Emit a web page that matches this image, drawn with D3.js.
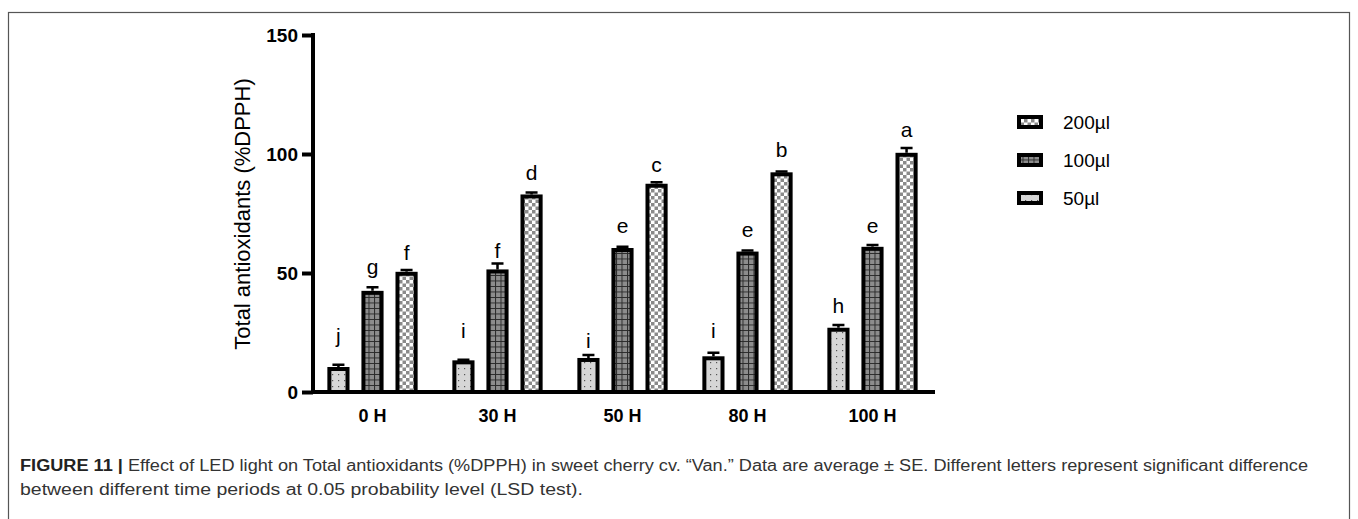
<!DOCTYPE html>
<html>
<head>
	<title>Total antioxidants</title>
	<script src="https://d3js.org/d3.v7.min.js" charset="utf-8"></script>
	<style>
		body { margin: 0; background: #fff; }
		svg { display: block; font-family: "Liberation Sans", Arial, sans-serif; }
	</style>
</head>
<body>
	<script>
		// DATA
		var times = ["0 H", "30 H", "50 H", "80 H", "100 H"];
		var doses = ["50µl", "100µl", "200µl"];
		var legendOrder = ["200µl", "100µl", "50µl"];
		var means = {
			"50µl":  [10.5, 13.3, 14.3, 15.0, 27.0],
			"100µl": [42.5, 51.5, 60.5, 59.0, 61.0],
			"200µl": [50.5, 83.0, 87.5, 92.3, 100.5]
		};
		var errors = {
			"50µl":  [1.0, 0.3, 1.2, 1.5, 1.2],
			"100µl": [1.5, 2.5, 0.5, 0.5, 0.8],
			"200µl": [0.8, 0.8, 0.6, 0.3, 2.0]
		};
		var letters = {
			"50µl":  ["j", "i", "i", "i", "h"],
			"100µl": ["g", "f", "e", "e", "e"],
			"200µl": ["f", "d", "c", "b", "a"]
		};
		// height (in axis units) where each letter sits
		var letterAt = {
			"50µl":  [20.6, 22.7, 18.5, 22.7, 33.2],
			"100µl": [49.6, 56.3, 66.8, 65.1, 66.8],
			"200µl": [55.5, 89.1, 92.4, 98.7, 107.1]
		};
		var yTicks = [0, 50, 100, 150];

		// SET UP SVG
		var width = 1358, height = 519;
		var svg = d3.select("body").append("svg")
			.attr("width", width)
			.attr("height", height);

		// frame round the figure
		svg.append("rect")
			.attr("x", 8.5).attr("y", 12.5)
			.attr("width", 1341).attr("height", 520)
			.attr("fill", "none").attr("stroke", "#555").attr("stroke-width", 1.2);

		// patterns
		var defs = svg.append("defs");
		var p50 = defs.append("pattern").attr("id", "p50")
			.attr("patternUnits", "userSpaceOnUse").attr("width", 6).attr("height", 6);
		p50.append("rect").attr("width", 6).attr("height", 6).attr("fill", "#d6d6d6");
		p50.append("rect").attr("x", 2).attr("y", 2).attr("width", 1.2).attr("height", 1.2).attr("fill", "#555");

		var p100 = defs.append("pattern").attr("id", "p100")
			.attr("patternUnits", "userSpaceOnUse").attr("width", 5.5).attr("height", 5.5);
		p100.append("rect").attr("width", 5.5).attr("height", 5.5).attr("fill", "#8d8d8d");
		p100.append("path").attr("d", "M0,0.5H5.5M0.5,0V5.5").attr("stroke", "#2a2a2a").attr("stroke-width", 1);

		var p200 = defs.append("pattern").attr("id", "p200")
			.attr("patternUnits", "userSpaceOnUse").attr("width", 7).attr("height", 7);
		p200.append("rect").attr("width", 7).attr("height", 7).attr("fill", "#fff");
		p200.append("rect").attr("width", 3.5).attr("height", 3.5).attr("fill", "#8a8a8a");
		p200.append("rect").attr("x", 3.5).attr("y", 3.5).attr("width", 3.5).attr("height", 3.5).attr("fill", "#8a8a8a");

		var fills = { "50µl": "url(#p50)", "100µl": "url(#p100)", "200µl": "url(#p200)" };

		// SCALES
		var y = d3.scaleLinear().domain([0, 150]).range([392, 35]);
		var x0 = d3.scaleBand().domain(times).range([310, 935]).paddingInner(0).paddingOuter(0);
		var x1 = d3.scaleBand().domain(doses).range([0, x0.bandwidth()]).paddingInner(0.35).paddingOuter(0.51);

		// BARS
		var bars = [];
		times.forEach(function(t, i) {
			doses.forEach(function(d) {
				bars.push({ time: t, dose: d, v: means[d][i], se: errors[d][i], lab: letters[d][i], ly: letterAt[d][i] });
			});
		});

		var g = svg.append("g");
		var bw = x1.bandwidth();
		g.selectAll(".bar").data(bars).enter().append("rect")
			.attr("class", "bar")
			.attr("x", function(d) { return x0(d.time) + x1(d.dose) + 2; })
			.attr("y", function(d) { return y(d.v) + 2; })
			.attr("width", bw - 4)
			.attr("height", function(d) { return y(0) - y(d.v) - 2; })
			.attr("fill", function(d) { return fills[d.dose]; })
			.attr("stroke", "#000").attr("stroke-width", 4);

		// error bars (upper half only)
		g.selectAll(".err").data(bars).enter().append("path")
			.attr("class", "err")
			.attr("d", function(d) {
				var cx = x0(d.time) + x1(d.dose) + bw / 2;
				var top = y(d.v + d.se);
				return "M" + cx + "," + y(d.v) + "V" + top + "M" + (cx - 6) + "," + top + "H" + (cx + 6);
			})
			.attr("stroke", "#000").attr("stroke-width", 2.5).attr("fill", "none");

		// significance letters
		g.selectAll(".lab").data(bars).enter().append("text")
			.attr("class", "lab")
			.attr("x", function(d) { return x0(d.time) + x1(d.dose) + bw / 2; })
			.attr("y", function(d) { return y(d.ly); })
			.attr("text-anchor", "middle")
			.attr("font-size", 21)
			.text(function(d) { return d.lab; });

		// AXES
		var yAxis = svg.append("g").attr("transform", "translate(313,0)")
			.call(d3.axisLeft(y).tickValues(yTicks).tickSize(11).tickPadding(4));
		yAxis.select(".domain").attr("stroke-width", 4).attr("d", "M0," + (y(150) - 2) + "V" + (y(0) + 2));
		yAxis.selectAll(".tick line").attr("stroke-width", 4);
		yAxis.selectAll(".tick text").attr("font-size", 19).attr("font-weight", "bold")
			.attr("font-family", "Liberation Sans, Arial, sans-serif").attr("fill", "#000");

		var xAxis = svg.append("g").attr("transform", "translate(0,392)")
			.call(d3.axisBottom(x0).tickSize(0).tickPadding(17));
		xAxis.select(".domain").attr("stroke-width", 4).attr("d", "M311,0H935");
		xAxis.selectAll(".tick text").attr("font-size", 18).attr("font-weight", "bold")
			.attr("font-family", "Liberation Sans, Arial, sans-serif").attr("fill", "#000");

		svg.append("text")
			.attr("transform", "translate(250,214) rotate(-90)")
			.attr("text-anchor", "middle")
			.attr("font-size", 22)
			.text("Total antioxidants (%DPPH)");

		// LEGEND
		var leg = svg.append("g").attr("transform", "translate(1017,0)");
		var ly = d3.scalePoint().domain(legendOrder).range([122, 198]);
		legendOrder.forEach(function(d) {
			leg.append("rect")
				.attr("x", 2).attr("y", ly(d) - 5)
				.attr("width", 22).attr("height", 10)
				.attr("fill", fills[d]).attr("stroke", "#000").attr("stroke-width", 4);
			leg.append("text")
				.attr("x", 46).attr("y", ly(d) + 7)
				.attr("font-size", 19)
				.text(d);
		});

		// CAPTION
		var cap = svg.append("text").attr("x", 20).attr("y", 471)
			.attr("font-size", 16).attr("fill", "#333")
			.attr("textLength", 1288).attr("lengthAdjust", "spacingAndGlyphs");
		cap.append("tspan").attr("font-weight", "bold").attr("fill", "#222").text("FIGURE 11 | ");
		cap.append("tspan").text("Effect of LED light on Total antioxidants (%DPPH) in sweet cherry cv. \u201cVan.\u201d Data are average \u00b1 SE. Different letters represent significant difference");
		svg.append("text").attr("x", 20).attr("y", 495)
			.attr("font-size", 16).attr("fill", "#333")
			.attr("textLength", 563).attr("lengthAdjust", "spacingAndGlyphs")
			.text("between different time periods at 0.05 probability level (LSD test).");
	</script>
</body>
</html>
